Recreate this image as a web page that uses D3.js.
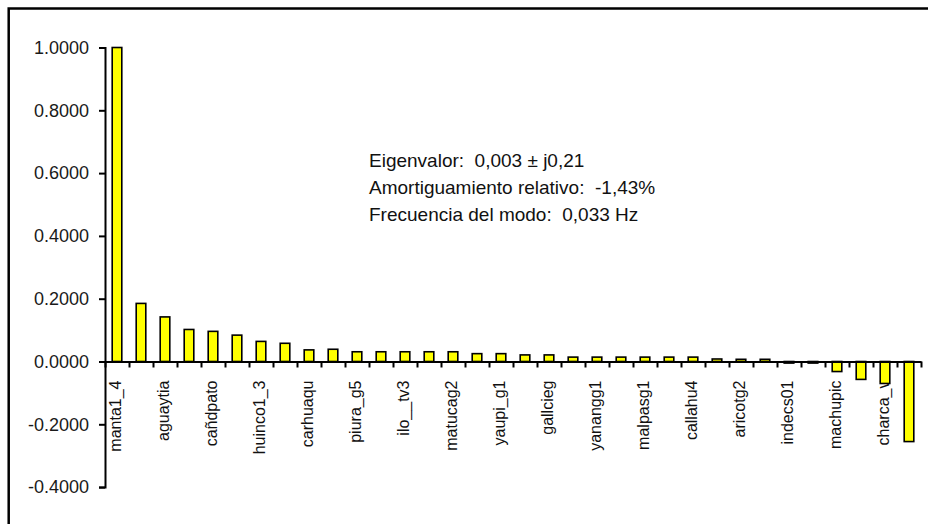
<!DOCTYPE html>
<html>
<head>
<meta charset="utf-8">
<script src="https://cdn.jsdelivr.net/npm/d3@7"></script>
<style>
  html, body { margin: 0; padding: 0; background: #fff; }
  svg { display: block; font-family: "Liberation Sans", Arial, sans-serif; }
  .note { white-space: pre; }
</style>
</head>
<body>
<svg id="chart" width="928" height="524"></svg>
<script>
// Participation factors of each generator in the electromechanical mode
const labelledUnits = ["manta1_4", "aguaytia", "cañdpato", "huinco1_3", "carhuaqu", "piura_g5",
  "ilo__tv3", "matucag2", "yaupi_g1", "gallcieg", "yanangg1", "malpasg1", "callahu4",
  "aricotg2", "indecs01", "machupic", "charca_v"];
// Every second unit carries a name on the axis; the rest are unnamed here
const categories = d3.range(34).map(i => (i % 2 === 0 ? labelledUnits[i / 2] : ""));
const values = [1.0, 0.185, 0.142, 0.102, 0.096, 0.084, 0.064, 0.058,
  0.037, 0.039, 0.031, 0.031, 0.031, 0.031, 0.031, 0.025,
  0.025, 0.021, 0.021, 0.014, 0.014, 0.014, 0.014, 0.014,
  0.014, 0.008, 0.007, 0.007, -0.005, -0.005, -0.032, -0.057,
  -0.070, -0.255];
const yTicks = [-0.4, -0.2, 0.0, 0.2, 0.4, 0.6, 0.8, 1.0];
const noteLines = ["Eigenvalor:  0,003 ± j0,21", "Amortiguamiento relativo:  -1,43%", "Frecuencia del modo:  0,033 Hz"];

const svg = d3.select("#chart");

// outer frame
svg.append("rect")
  .attr("x", 8.7).attr("y", 8.5)
  .attr("width", 960).attr("height", 560)
  .attr("fill", "none").attr("stroke", "#000").attr("stroke-width", 2.5);

const x0 = 105, x1 = 921;
const y = d3.scaleLinear().domain([-0.4, 1.0]).range([487.1, 47.5]);
const xEdge = d3.scaleLinear().domain([0, categories.length]).range([x0, x1]);
const x = d3.scaleBand().domain(d3.range(categories.length)).range([x0, x1])
  .paddingInner(0.6).paddingOuter(0.3);

// y axis
const yAxis = svg.append("g").attr("transform", `translate(${x0},0)`)
  .call(d3.axisLeft(y).tickValues(yTicks).tickSize(6).tickPadding(10)
    .tickFormat(d => d.toFixed(4)));
yAxis.selectAll("path, line").attr("stroke", "#000").attr("stroke-width", 2);
yAxis.selectAll("text").attr("font-size", 18).attr("fill", "#1a1a1a")
  .attr("font-family", "'Liberation Sans', Arial, sans-serif");

// category labels, rotated and hanging below the zero line
const labelAxis = svg.append("g").attr("transform", `translate(0,${y(0)})`)
  .call(d3.axisBottom(x).tickSize(0).tickFormat(i => categories[i]));
labelAxis.select(".domain").remove();
labelAxis.selectAll("text")
  .attr("font-size", 16).attr("fill", "#111")
  .attr("font-family", "'Liberation Sans', Arial, sans-serif")
  .attr("transform", "rotate(-90)")
  .attr("x", -19).attr("y", -2).attr("dy", "0.35em")
  .attr("text-anchor", "end");

// bars
svg.append("g").selectAll("rect").data(values).join("rect")
  .attr("x", (d, i) => x(i))
  .attr("width", x.bandwidth())
  .attr("y", d => y(Math.max(0, d)))
  .attr("height", d => Math.abs(y(d) - y(0)))
  .attr("fill", "#ffff00").attr("stroke", "#000").attr("stroke-width", 1.6);

// x axis line with ticks on category boundaries
const xAxis = svg.append("g").attr("transform", `translate(0,${y(0)})`)
  .call(d3.axisBottom(xEdge).tickValues(d3.range(categories.length + 1))
    .tickSize(6).tickSizeOuter(0).tickFormat(""));
xAxis.selectAll("path, line").attr("stroke", "#000").attr("stroke-width", 2);

// mode description
svg.append("g").selectAll("text").data(noteLines).join("text")
  .attr("class", "note")
  .attr("x", 369).attr("y", (d, i) => 167 + i * 27)
  .attr("font-size", 19).attr("fill", "#111")
  .text(d => d);
</script>
</body>
</html>
